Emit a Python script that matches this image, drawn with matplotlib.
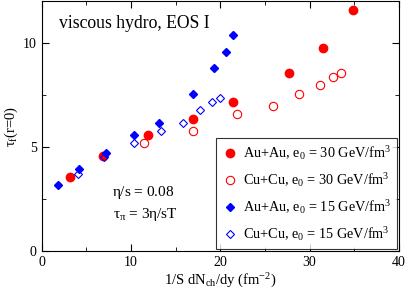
import matplotlib
matplotlib.use('Agg')
import matplotlib.pyplot as plt
from matplotlib.ticker import MultipleLocator

plt.rcParams['font.family'] = ['Liberation Serif', 'DejaVu Serif']
plt.rcParams['mathtext.fontset'] = 'custom'
plt.rcParams['mathtext.rm'] = 'Liberation Serif'
plt.rcParams['mathtext.it'] = 'Liberation Serif'

# Au+Au, e0 = 30 GeV/fm^3
auau30_x = [3.2, 6.9, 11.9, 17.0, 21.4, 27.7, 31.5, 34.9]
auau30_y = [3.57, 4.58, 5.56, 6.36, 7.18, 8.57, 9.77, 11.57]
# Cu+Cu, e0 = 30 GeV/fm^3
cucu30_x = [11.5, 17.0, 21.9, 25.9, 28.8, 31.2, 32.6, 33.5]
cucu30_y = [5.18, 5.78, 6.57, 6.97, 7.56, 7.97, 8.37, 8.57]
# Au+Au, e0 = 15 GeV/fm^3
auau15_x = [1.9, 4.2, 7.2, 10.4, 13.1, 17.0, 19.3, 20.7, 21.4]
auau15_y = [3.17, 3.97, 4.74, 5.58, 6.17, 7.56, 8.78, 9.58, 10.38]
# Cu+Cu, e0 = 15 GeV/fm^3
cucu15_x = [4.05, 7.0, 10.4, 13.4, 15.8, 17.7, 19.1, 19.95]
cucu15_y = [3.73, 4.53, 5.18, 5.77, 6.17, 6.78, 7.18, 7.37]

fig = plt.figure(figsize=(4.07, 2.92), dpi=100)
ax = fig.add_axes([0.102, 0.140, 0.878, 0.855])

ax.plot(auau30_x, auau30_y, 'o', color='red', markersize=6, ls='none',
        label=r'Au+Au, e$_0$ = 30 GeV/fm$^3$')
ax.plot(cucu30_x, cucu30_y, 'o', mfc='none', mec='red', mew=0.8, markersize=6,
        ls='none', label=r'Cu+Cu, e$_0$ = 30 GeV/fm$^3$')
ax.plot(auau15_x, auau15_y, 'D', color='blue', markersize=4.5, ls='none',
        label=r'Au+Au, e$_0$ = 15 GeV/fm$^3$')
ax.plot(cucu15_x, cucu15_y, 'D', mfc='none', mec='blue', mew=0.8, markersize=4.5,
        ls='none', label=r'Cu+Cu, e$_0$ = 15 GeV/fm$^3$')

ax.set_xlim(0, 40)
ax.set_ylim(0, 12)
ax.xaxis.set_major_locator(MultipleLocator(10))
ax.xaxis.set_minor_locator(MultipleLocator(5))
ax.yaxis.set_major_locator(MultipleLocator(5))
ax.yaxis.set_minor_locator(MultipleLocator(2.5))
ax.tick_params(which='both', direction='in', top=True, right=True, labelsize=10)
ax.tick_params(which='major', length=5)
ax.tick_params(which='minor', length=3)

ax.set_xlabel(r'1/S dN$_{\rm ch}$/dy (fm$^{-2}$)', fontsize=10.5, labelpad=2)
ax.set_ylabel(r'$\tau_{\rm f}$(r=0)', fontsize=10.5, labelpad=2)

ax.text(0.05, 0.895, 'viscous hydro, EOS I', transform=ax.transAxes, fontsize=12.7)
ax.text(7.9, 2.8, r'$\eta$/s = 0.08', fontsize=11, va='center')
ax.text(8.0, 1.78, r'$\tau_\pi$ = 3$\eta$/sT', fontsize=11, va='center')

leg = ax.legend(loc='lower right', fontsize=10.3, frameon=True, fancybox=False,
                edgecolor='black', handletextpad=0.35, handlelength=1.1,
                borderaxespad=0.15, labelspacing=0.62, borderpad=0.42)
leg.get_frame().set_linewidth(0.8)

fig.savefig('out.png', dpi=100)
